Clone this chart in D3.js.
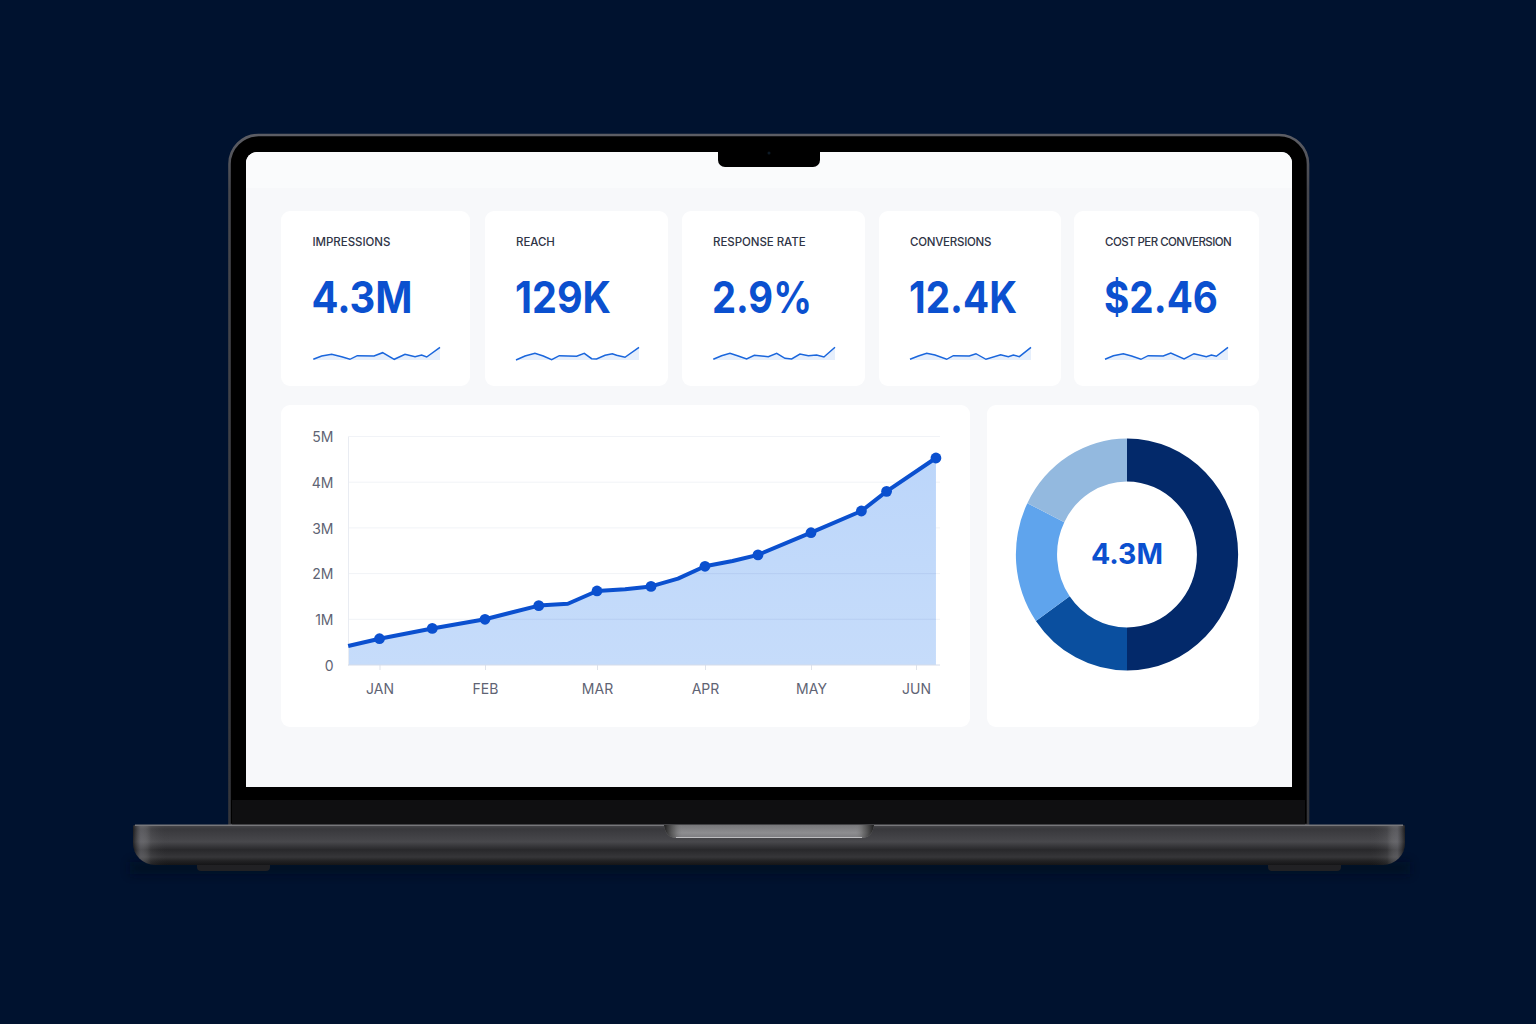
<!DOCTYPE html>
<html>
<head>
<meta charset="utf-8">
<script src="https://cdn.jsdelivr.net/npm/d3@7"></script>
<style>
  html, body { margin: 0; padding: 0; background: #00122f; }
  svg { display: block; font-family: Inter, sans-serif; }
  .axis path, .axis line { fill: none; }
  .axis text { font-family: Inter, sans-serif; font-size: 14px; fill: #5f6474; }
</style>
</head>
<body>
<svg id="chart" width="1536" height="1024"></svg>
<script>
// kpi cards
const kpiLabels = ['IMPRESSIONS', 'REACH', 'RESPONSE RATE', 'CONVERSIONS', 'COST PER CONVERSION'];
const kpiValues = ['4.3M', '129K', '2.9%', '12.4K', '$2.46'];

// sparklines: position along the card (0-100) and relative level
const sparkPos = [
  [0, 6.6, 14.5, 22.4, 28.9, 34.7, 47.9, 54.7, 63.9, 72.4, 80.3, 85.5, 89.5, 100],
  [0, 7.3, 15.4, 22.2, 29, 35.2, 49.3, 55.5, 61.5, 65.5, 72.4, 78.3, 81.8, 88.6, 100],
  [0, 6.8, 13.7, 20.5, 27.4, 33.7, 45.2, 52.1, 58.9, 64.4, 71.2, 78.1, 84.9, 90.9, 100],
  [0, 6.9, 13.8, 20.7, 30.3, 35.8, 49, 54.5, 62.8, 74.9, 81.3, 85.4, 90.4, 100],
  [0, 6.8, 14.9, 21.6, 29.2, 35.1, 47.3, 53.5, 64.3, 72.4, 82.4, 86.5, 90.5, 100]
];
const sparkVals = [
  [1.7, 5, 6.7, 4.3, 1.7, 5.3, 5, 8.3, 1.7, 6.7, 4.3, 6, 4, 13.7],
  [1, 5, 7.7, 5, 1.3, 5.3, 4.7, 7.7, 2.3, 2, 5.7, 7.3, 5.7, 3.7, 13.7],
  [1.7, 5.3, 7.7, 5, 2, 5.7, 4.3, 7.7, 2.7, 2, 7, 5.3, 6, 4, 13.7],
  [1.7, 5, 7.7, 6, 1.7, 5.3, 5, 7.3, 1.7, 6.3, 4.3, 6, 4.3, 13.7],
  [1.7, 5.3, 7.3, 5, 1.7, 5.3, 5, 8, 2, 7.3, 4.3, 6, 4.7, 13.7]
];

// main chart. months are 0 = JAN ... 5 = JUN, values in millions
const months = ['JAN', 'FEB', 'MAR', 'APR', 'MAY', 'JUN'];
const yTicks = [0, 1, 2, 3, 4, 5];
const lineMonth = [-0.297, 0, 0.5, 1, 1.48, 1.74, 2, 2.26, 2.5, 2.75, 3, 3.26, 3.5, 4, 4.48, 4.72, 5.19];
const lineValue = [0.415, 0.575, 0.8, 1, 1.3, 1.34, 1.62, 1.66, 1.72, 1.89, 2.16, 2.275, 2.41, 2.895, 3.37, 3.8, 4.53];
const lineDot = [0, 1, 1, 1, 1, 0, 1, 0, 1, 0, 1, 0, 1, 1, 1, 1, 1];

// donut
const donutShares = [50, 15.3, 17, 17.7];
const donutColors = ['#03296a', '#0a4f9f', '#5fa4ed', '#93b9df'];
const donutLabel = '4.3M';

// layout
const cardBoxes = [[281, 470], [485, 668], [682, 865], [879, 1061], [1074, 1259]];
const labelX = [312.5, 516, 713, 910, 1105];
const labelSpacing = [-0.05, -0.05, -0.05, -0.25, -0.55];
const kpiWidths = [101, 96, 100, 108, 114];
const sparkBoxes = [[313.3, 440], [516, 639], [713.3, 835], [910, 1031], [1105, 1228]];
const monthPx = [379.5, 485, 597, 705, 811, 916];
const blue = '#0b50cf';

const svg = d3.select('#chart');
const defs = svg.append('defs');

function vGrad(id, stops) {
  const g = defs.append('linearGradient').attr('id', id)
    .attr('x1', 0).attr('y1', 0).attr('x2', 0).attr('y2', 1);
  stops.forEach(([o, c]) => g.append('stop').attr('offset', o).attr('stop-color', c));
}
function hGrad(id, stops) {
  const g = defs.append('linearGradient').attr('id', id)
    .attr('x1', 0).attr('y1', 0).attr('x2', 1).attr('y2', 0);
  stops.forEach(([o, c, a]) => g.append('stop').attr('offset', o).attr('stop-color', c).attr('stop-opacity', a));
}
vGrad('baseGrad', [[0, '#48484c'], [0.1, '#38383c'], [0.42, '#48484c'], [0.62, '#28282b'], [0.8, '#363639'], [0.9, '#212123'], [1, '#151517']]);
vGrad('hingeGrad', [[0, '#77777a'], [0.6, '#8d8d90'], [1, '#7c7c80']]);
vGrad('areaGrad', [[0, '#bcd6fa'], [1, '#c6dcfa']]);
vGrad('lidEdge', [[0, '#5c5d64'], [0.08, '#46474d'], [1, '#34353a']]);
hGrad('baseEnds', [[0, '#000', 0.5], [0.006, '#9a9aa0', 0.35], [0.014, '#fff', 0.06], [0.03, '#000', 0], [0.97, '#000', 0], [0.986, '#fff', 0.06], [0.994, '#9a9aa0', 0.35], [1, '#000', 0.5]]);
hGrad('hingeEnds', [[0, '#111', 0.9], [0.05, '#555', 0.6], [0.09, '#888', 0], [0.91, '#888', 0], [0.95, '#555', 0.6], [1, '#111', 0.9]]);
defs.append('filter').attr('id', 'soft').attr('x', '-10%').attr('y', '-200%').attr('width', '120%').attr('height', '500%')
  .append('feGaussianBlur').attr('stdDeviation', 5);

// backdrop and laptop
svg.append('rect').attr('width', 1536).attr('height', 1024).attr('fill', '#00122f');
svg.append('rect').attr('x', 130).attr('y', 862).attr('width', 1280).attr('height', 12)
  .attr('fill', '#000a1e').attr('opacity', 0.55).attr('filter', 'url(#soft)');

svg.append('path')
  .attr('d', 'M229.5 825V164a29 29 0 0 1 29-29H1279a29 29 0 0 1 29 29V825Z')
  .attr('fill', '#000').attr('stroke', 'url(#lidEdge)').attr('stroke-width', 2.6);
svg.append('rect').attr('x', 232).attr('y', 800).attr('width', 1073).attr('height', 25).attr('fill', '#0f0f11');

// screen
svg.append('path')
  .attr('d', 'M246 787V163a11 11 0 0 1 11-11H1281a11 11 0 0 1 11 11V787Z')
  .attr('fill', '#f7f8fa');
svg.append('path')
  .attr('d', 'M246 188V163a11 11 0 0 1 11-11H1281a11 11 0 0 1 11 11V188Z')
  .attr('fill', '#fafbfc');
svg.append('path')
  .attr('d', 'M718 151H820V160a7 7 0 0 1-7 7H725a7 7 0 0 1-7-7Z')
  .attr('fill', '#000');
svg.append('circle').attr('cx', 769).attr('cy', 153).attr('r', 1.5).attr('fill', '#0d1a26');

// base
svg.append('rect').attr('x', 197).attr('y', 860).attr('width', 73).attr('height', 11).attr('rx', 4).attr('fill', '#212124');
svg.append('rect').attr('x', 1268).attr('y', 860).attr('width', 73).attr('height', 11).attr('rx', 4).attr('fill', '#212124');
const basePath = 'M135 825H1403a2 2 0 0 1 2 2V843a22 22 0 0 1-22 22H155a22 22 0 0 1-22-22V827a2 2 0 0 1 2-2Z';
svg.append('path').attr('d', basePath).attr('fill', 'url(#baseGrad)');
svg.append('path').attr('d', basePath).attr('fill', 'url(#baseEnds)');
svg.append('rect').attr('x', 135).attr('y', 824.5).attr('width', 1268).attr('height', 1.5).attr('fill', '#77777b');
const hingePath = 'M664 825H874C873 833 869 838 862 838H676C669 838 665 833 664 825Z';
svg.append('path').attr('d', hingePath).attr('fill', 'url(#hingeGrad)');
svg.append('path').attr('d', hingePath).attr('fill', 'url(#hingeEnds)');
svg.append('rect').attr('x', 676).attr('y', 837).attr('width', 186).attr('height', 1).attr('fill', '#bdbdc0');

// kpi cards
const sparkY = d3.scaleLinear().domain([0, 14]).range([361, 347]);
cardBoxes.forEach(([x0, x1], i) => {
  svg.append('rect').attr('x', x0).attr('y', 211).attr('width', x1 - x0).attr('height', 175)
    .attr('rx', 9).attr('fill', '#fff');
  svg.append('text').attr('x', labelX[i]).attr('y', 246)
    .attr('font-size', 11.5).attr('font-weight', 500).attr('fill', '#2f3446')
    .attr('letter-spacing', labelSpacing[i])
    .text(kpiLabels[i]);
  svg.append('text').attr('x', labelX[i] - 1).attr('y', 313)
    .attr('font-size', 44).attr('font-weight', 700).attr('fill', blue)
    .attr('textLength', kpiWidths[i]).attr('lengthAdjust', 'spacingAndGlyphs')
    .text(kpiValues[i]);

  const sparkX = d3.scaleLinear().domain([0, 100]).range(sparkBoxes[i]);
  const pts = sparkPos[i].map((p, j) => [p, sparkVals[i][j]]);
  svg.append('path').datum(pts)
    .attr('d', d3.area().x((d) => sparkX(d[0])).y0(sparkY(1)).y1((d) => sparkY(d[1])))
    .attr('fill', '#e6effc');
  svg.append('path').datum(pts)
    .attr('d', d3.line().x((d) => sparkX(d[0])).y((d) => sparkY(d[1])))
    .attr('fill', 'none').attr('stroke', '#1a66dc').attr('stroke-width', 1.5);
});

// main panel
svg.append('rect').attr('x', 281).attr('y', 405).attr('width', 689).attr('height', 322)
  .attr('rx', 9).attr('fill', '#fff');

const x = d3.scaleLinear().domain(months.map((d, i) => i)).range(monthPx);
const y = d3.scaleLinear().domain([0, 5]).range([665, 436.5]);
const series = lineMonth.map((m, i) => ({ m, v: lineValue[i], dot: lineDot[i] }));
const areaGen = d3.area().x((d) => x(d.m)).y0(y(0)).y1((d) => y(d.v));

svg.append('g').selectAll('line').data(yTicks.slice(1)).join('line')
  .attr('x1', 348).attr('x2', 940)
  .attr('y1', (d) => y(d)).attr('y2', (d) => y(d))
  .attr('stroke', '#f1f3f7').attr('stroke-width', 1);

svg.append('path').datum(series)
  .attr('d', areaGen)
  .attr('fill', 'url(#areaGrad)');

// gridlines show faintly through the area only
defs.append('clipPath').attr('id', 'areaClip').append('path').datum(series).attr('d', areaGen);
svg.append('g').attr('clip-path', 'url(#areaClip)')
  .selectAll('line').data(yTicks.slice(1, 3)).join('line')
  .attr('x1', 348).attr('x2', 936)
  .attr('y1', (d) => y(d)).attr('y2', (d) => y(d))
  .attr('stroke', '#8aa6d4').attr('stroke-opacity', 0.22).attr('stroke-width', 1);

const yAxis = d3.axisLeft(y).tickValues(yTicks).tickSize(0).tickPadding(14)
  .tickFormat((d) => (d === 0 ? '0' : d + 'M'));
const yg = svg.append('g').attr('class', 'axis').attr('transform', 'translate(348,0)').call(yAxis);
yg.select('.domain').attr('stroke', '#e9ecf2');
yg.selectAll('text').attr('transform', 'translate(-0.5,0.7)');

const xAxis = d3.axisBottom(x).tickValues(months.map((d, i) => i)).tickSize(5).tickPadding(14)
  .tickFormat((d) => months[d]);
const xg = svg.append('g').attr('class', 'axis').attr('transform', 'translate(0,665)').call(xAxis);
xg.select('.domain').remove();
xg.selectAll('line').attr('stroke', '#dfe3ea');
svg.append('line').attr('x1', 348).attr('x2', 940).attr('y1', y(0)).attr('y2', y(0))
  .attr('stroke', '#d5dcea').attr('stroke-width', 1);

svg.append('path').datum(series)
  .attr('d', d3.line().x((d) => x(d.m)).y((d) => y(d.v)))
  .attr('fill', 'none').attr('stroke', blue).attr('stroke-width', 4).attr('stroke-linejoin', 'round');
svg.append('g').selectAll('circle').data(series.filter((d) => d.dot)).join('circle')
  .attr('cx', (d) => x(d.m)).attr('cy', (d) => y(d.v)).attr('r', 5.4).attr('fill', blue);

// donut panel
svg.append('rect').attr('x', 987).attr('y', 405).attr('width', 272).attr('height', 322)
  .attr('rx', 9).attr('fill', '#fff');
const donut = svg.append('g').attr('transform', 'translate(1127,554.5) scale(0.958,1)');
const arc = d3.arc().innerRadius(73).outerRadius(116);
donut.selectAll('path').data(d3.pie().sort(null)(donutShares)).join('path')
  .attr('d', arc)
  .attr('fill', (d, i) => donutColors[i]);
svg.append('text').attr('x', 1127).attr('y', 564).attr('text-anchor', 'middle')
  .attr('font-size', 28.5).attr('font-weight', 700).attr('fill', blue)
  .text(donutLabel);
</script>
</body>
</html>
